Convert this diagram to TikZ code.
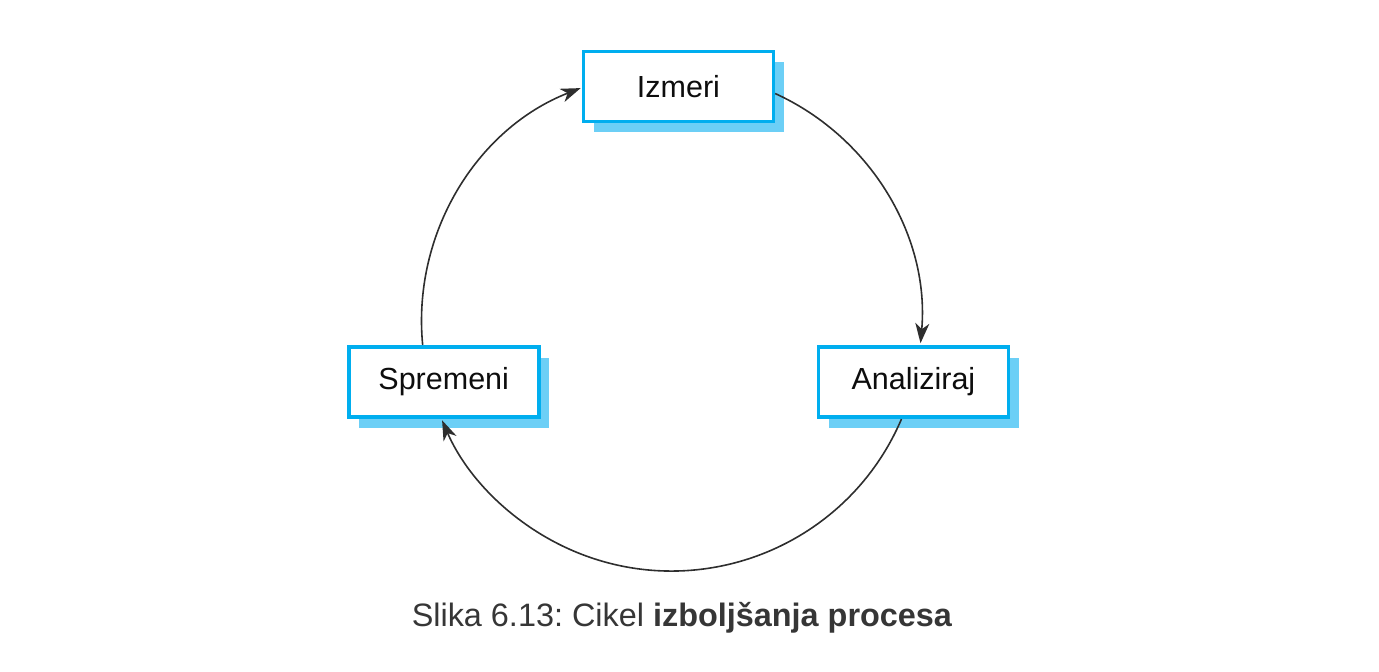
\documentclass[tikz,border=0pt]{standalone}
\usepackage{fontspec}
\setmainfont{Liberation Sans}
\usetikzlibrary{arrows.meta,shadows}
\definecolor{boxblue}{HTML}{00AEEF}
\definecolor{shadowblue}{HTML}{6CCFF6}
\definecolor{linegray}{HTML}{2E2E2E}
\definecolor{captiongray}{HTML}{363636}
\frenchspacing
\begin{document}
\begin{tikzpicture}[x=1pt,y=1pt,
  stepbox/.style={draw=boxblue, line width=3.6pt, fill=white,
    minimum width=190pt, minimum height=70pt, inner sep=0pt,
    font=\fontsize{30.5}{35}\selectfont, text=black!95,
    general shadow={fill=shadowblue, shadow xshift=10.5pt, shadow yshift=-10.5pt}},
  cyc/.style={draw=linegray, line width=1.6pt,
    -{Stealth[length=20pt,width=14pt,inset=6pt]}}]
\useasboundingbox (0,0) rectangle (1379,-672);
\coordinate (O) at (671.5,-321);
\node[stepbox] (iz) at (678.5,-86.5) {Izmeri};
\node[stepbox] (sp) at (443.7,-382) {Spremeni};
\node[stepbox] (an) at (913.4,-382) {Analiziraj};
\draw[cyc] (O) ++(65.5:250) arc[start angle=65.5, end angle=-5.1, radius=250];
\draw[cyc] (O) ++(-23.1:250) arc[start angle=-23.1, end angle=-156.6, radius=250];
\draw[cyc] (O) ++(185.5:250) arc[start angle=185.5, end angle=111.3, radius=250];
\node[text=captiongray, font=\fontsize{32.4}{38}\selectfont, anchor=base] (cap) at (682,-626)
  {Slika 6.13: Cikel \textbf{izboljšanja procesa}};
\end{tikzpicture}
\end{document}
